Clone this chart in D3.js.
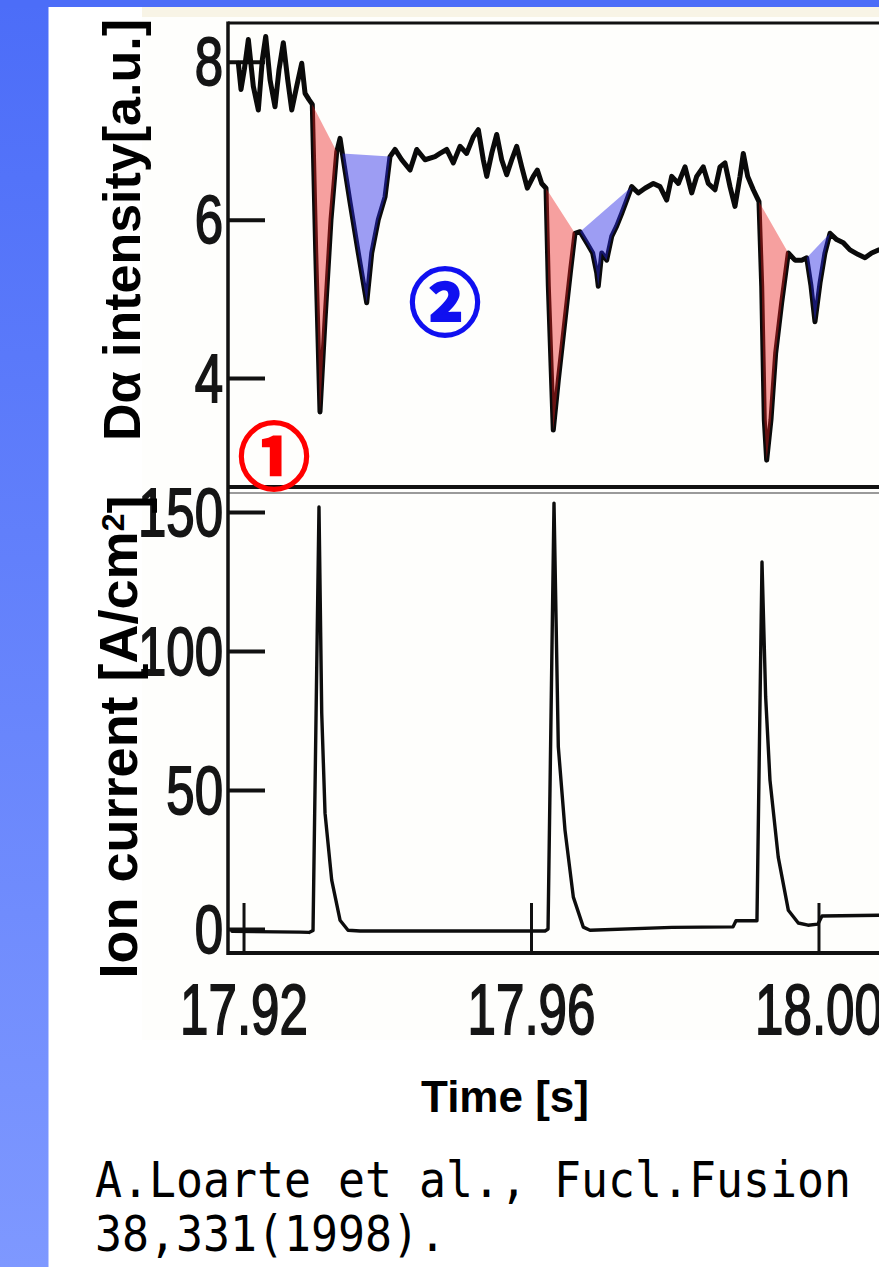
<!DOCTYPE html>
<html><head><meta charset="utf-8">
<script src="https://cdn.jsdelivr.net/npm/d3@7"></script>
<style>html,body{margin:0;padding:0;background:#fff;overflow:hidden} svg{display:block}</style>
</head><body>
<svg id="c" width="879" height="1267"></svg>
<script>
// ---------------- data ----------------
const timeTicks = [17.92, 17.96, 18.00];
const dalphaTicks = [4, 6, 8];
const ionTicks = [0, 50, 100, 150];

const dalphaTime = [17.91928,17.91965,17.92011,17.92067,17.92136,17.92206,17.92262,17.92309,17.92369,17.92438,
17.92494,17.92554,17.92615,17.92671,17.92740,17.92810,17.92856,17.92911,17.92957,17.93005,
17.93064,17.93134,17.93217,17.93297,17.93343,17.93375,17.93482,17.93597,17.93714,17.93784,
17.93875,17.93969,17.94038,17.94108,17.94201,17.94317,17.94410,17.94525,17.94664,17.94734,
17.94827,17.94919,17.95012,17.95105,17.95197,17.95267,17.95336,17.95384,17.95453,17.95523,
17.95592,17.95662,17.95732,17.95801,17.95871,17.95949,17.96032,17.96088,17.96149,17.96209,
17.96241,17.96310,17.96380,17.96473,17.96552,17.96612,17.96682,17.96775,17.96858,17.96914,
17.96936,17.96984,17.97053,17.97123,17.97192,17.97262,17.97332,17.97401,17.97493,17.97586,
17.97702,17.97795,17.97888,17.97958,17.98050,17.98143,17.98236,17.98306,17.98397,17.98467,
17.98560,17.98630,17.98699,17.98769,17.98838,17.98908,17.98954,17.99015,17.99093,17.99172,
17.99210,17.99246,17.99279,17.99339,17.99404,17.99488,17.99580,17.99673,17.99766,17.99836,
17.99896,17.99951,18.00021,18.00090,18.00160,18.00253,18.00345,18.00438,18.00554,18.00647,
18.00740,18.00842,18.00995];
const dalphaValue = [7.98,7.65,7.90,8.28,7.69,7.39,8.03,8.32,7.77,7.43,
7.90,8.24,7.77,7.39,7.69,7.98,7.60,7.52,7.46,5.58,
3.57,4.73,6.00,6.86,7.03,6.84,6.22,5.58,4.95,5.58,
6.00,6.29,6.80,6.89,6.76,6.63,6.89,6.76,6.80,6.84,
6.89,6.72,6.93,6.84,7.05,7.14,6.76,6.55,6.84,7.08,
6.76,6.57,6.76,6.93,6.67,6.40,6.55,6.63,6.46,6.40,
5.16,3.34,3.97,4.73,5.37,5.83,5.85,5.71,5.58,5.33,
5.16,5.58,5.49,5.79,5.92,6.08,6.25,6.42,6.34,6.40,
6.46,6.42,6.25,6.55,6.46,6.67,6.34,6.55,6.67,6.46,
6.38,6.67,6.72,6.42,6.17,6.55,6.84,6.55,6.38,6.23,
5.16,3.47,2.96,3.47,4.31,4.95,5.58,5.49,5.49,5.52,
5.16,4.71,5.20,5.58,5.83,5.75,5.71,5.62,5.56,5.52,
5.58,5.62,5.65];

// shaded regions: start/end time of each chord-bounded area
const shadeStart = [17.92957, 17.93375, 17.96209, 17.96682, 17.99172, 17.99836];
const shadeEnd   = [17.93297, 17.94038, 17.96612, 17.97401, 17.99580, 18.00160];
const shadeKind  = ["①", "②", "①", "②", "①", "②"];

const ionTime = [17.91840,17.92786,17.92911,17.92967,17.93050,17.93088,17.93134,17.93227,17.93343,17.93454,
17.93621,17.96195,17.96237,17.96320,17.96380,17.96473,17.96589,17.96728,17.96821,17.97960,
17.98811,17.98852,17.99131,17.99144,17.99214,17.99265,17.99325,17.99440,17.99580,17.99719,
17.99854,17.99993,18.00049,18.00842,18.00995];
const ionValue = [-0.8,-1.1,-1.2,-0.5,151.8,77.7,41.7,17.6,3.2,-0.4,
-0.7,-0.7,0,153.2,65.5,35.6,11.5,0.7,-0.4,0.6,
0.8,3.0,3.0,3.0,132,83.5,53.6,25.9,6.8,2.2,
1.4,1.8,4.7,5.0,5.0];

// ---------------- drawing ----------------
const svg = d3.select("#c");
const W = 879, H = 1267;

const defs = svg.append("defs");
const grad = defs.append("linearGradient").attr("id","strip").attr("x1",0).attr("y1",0).attr("x2",0).attr("y2",1);
grad.append("stop").attr("offset","0%").attr("stop-color","#4c6df8");
grad.append("stop").attr("offset","100%").attr("stop-color","#7e98ff");

svg.append("rect").attr("x",0).attr("y",0).attr("width",W).attr("height",H).attr("fill","#ffffff");
svg.append("rect").attr("x",0).attr("y",0).attr("width",48.5).attr("height",H).attr("fill","url(#strip)");
svg.append("rect").attr("x",0).attr("y",0).attr("width",W).attr("height",7).attr("fill","#4c6df8");
// scanned figure background
svg.append("rect").attr("x",142).attr("y",7).attr("width",W-142).attr("height",1033).attr("fill","#fefefc");
svg.append("rect").attr("x",142).attr("y",7).attr("width",W-142).attr("height",10).attr("fill","#f8f4e6");

const x = d3.scaleLinear().domain([17.91784, 18.00842]).range([228, 879]);
const yTop = d3.scaleLinear().domain([2.62, 8.49]).range([487, 23]);
const yBot = d3.scaleLinear().domain([-8.6, 159]).range([953, 487]);

const xL = x.range()[0], xR = 900;

// frame
const frame = svg.append("g").attr("stroke","#111").attr("fill","none");
frame.append("line").attr("x1",xL).attr("x2",xR).attr("y1",yTop.range()[1]).attr("y2",yTop.range()[1]).attr("stroke-width",3);
frame.append("line").attr("x1",xL).attr("x2",xR).attr("y1",yBot.range()[1]+6).attr("y2",yBot.range()[1]+6).attr("stroke","#9a9a9a").attr("stroke-width",2);
frame.append("line").attr("x1",xL).attr("x2",xR).attr("y1",yTop.range()[0]).attr("y2",yTop.range()[0]).attr("stroke-width",4);
frame.append("line").attr("x1",xL).attr("x2",xR).attr("y1",yBot.range()[0]).attr("y2",yBot.range()[0]).attr("stroke-width",4);
frame.append("line").attr("x1",xL).attr("x2",xL).attr("y1",yTop.range()[1]-1.5).attr("y2",yBot.range()[0]+2).attr("stroke-width",3.5);

const tickFont = "'Liberation Sans', Arial, sans-serif";
function styleLeft(g){
  g.select(".domain").remove();
  g.selectAll(".tick line").attr("stroke","#111").attr("stroke-width",4);
  g.selectAll(".tick text").attr("x",0).attr("dy","0.34em").attr("text-anchor","end")
    .attr("transform","translate(-5,0) scale(0.75,1)")
    .style("font-family",tickFont).style("font-size","68px")
    .attr("fill","#151515").attr("stroke","#151515").attr("stroke-width",1.8);
}
svg.append("g").attr("transform",`translate(${xL},0)`)
  .call(d3.axisLeft(yTop).tickValues(dalphaTicks).tickFormat(d3.format("d")).tickSizeInner(-37).tickSizeOuter(0))
  .call(styleLeft);
svg.append("g").attr("transform",`translate(${xL},0)`)
  .call(d3.axisLeft(yBot).tickValues(ionTicks).tickFormat(d3.format("d")).tickSizeInner(-37).tickSizeOuter(0))
  .call(styleLeft);

svg.append("g").attr("transform",`translate(0,${yBot.range()[0]})`)
  .call(d3.axisBottom(x).tickValues(timeTicks).tickFormat(d3.format(".2f")).tickSizeInner(-50).tickSizeOuter(0))
  .call(g=>{
    g.select(".domain").remove();
    g.selectAll(".tick line").attr("stroke","#111").attr("stroke-width",3);
    g.selectAll(".tick text").attr("y",81).attr("dy",0).attr("x",0).attr("text-anchor","middle")
      .attr("transform","scale(0.73,1)")
      .style("font-family",tickFont).style("font-size","70px")
      .attr("fill","#151515").attr("stroke","#151515").attr("stroke-width",1.8);
  });

// clip for curves
defs.append("clipPath").attr("id","plot").append("rect").attr("x",xL).attr("y",0).attr("width",W-xL).attr("height",H);

const dPts = dalphaTime.map((t,i)=>({t, v: dalphaValue[i]}));
const iPts = ionTime.map((t,i)=>({t, v: ionValue[i]}));

const lineTop = d3.line().x(d=>x(d.t)).y(d=>yTop(d.v));
const lineBot = d3.line().x(d=>x(d.t)).y(d=>yBot(d.v));

const plot = svg.append("g").attr("clip-path","url(#plot)");
plot.append("path").attr("d",lineTop(dPts)).attr("fill","none").attr("stroke","#0a0a0a")
  .attr("stroke-width",5).attr("stroke-linejoin","round").attr("stroke-linecap","round");
plot.append("path").attr("d",lineBot(iPts)).attr("fill","none").attr("stroke","#0d0d0d")
  .attr("stroke-width",3.4).attr("stroke-linejoin","round").attr("stroke-linecap","round");

const shadeColor = {"①":"rgba(236,30,30,0.42)", "②":"rgba(40,40,232,0.45)"};
shadeStart.forEach((s,i)=>{
  const pts = dPts.filter(p=>p.t>=s-1e-7 && p.t<=shadeEnd[i]+1e-7);
  plot.append("path").attr("d",lineTop(pts)+"Z").attr("fill",shadeColor[shadeKind[i]]).attr("stroke","none");
});

// circled markers
svg.append("text").attr("x",274).attr("y",451).attr("text-anchor","middle").attr("dominant-baseline","central")
  .style("font-family","'Noto Sans CJK JP', sans-serif").style("font-size","72px").style("font-weight","700")
  .attr("fill","#ff0000").attr("stroke","#ff0000").attr("stroke-width",2.5).text("①");
svg.append("text").attr("x",445).attr("y",297).attr("text-anchor","middle").attr("dominant-baseline","central")
  .style("font-family","'Noto Sans CJK JP', sans-serif").style("font-size","72px").style("font-weight","700")
  .attr("fill","#1010f0").attr("stroke","#1010f0").attr("stroke-width",2.5).text("②");

// axis titles
const labFont = "'Liberation Sans', Arial, sans-serif";
svg.append("text").attr("transform","translate(140,230) rotate(-90)").attr("text-anchor","middle")
  .style("font-family",labFont).style("font-weight","700").style("font-size","52px").attr("fill","#000")
  .text("Dα intensity[a.u.]");
const ion = svg.append("text").attr("transform","translate(137,737) rotate(-90)").attr("text-anchor","middle")
  .style("font-family",labFont).style("font-weight","700").style("font-size","54px").attr("fill","#000");
ion.append("tspan").text("Ion current [A/cm");
ion.append("tspan").attr("dy","-0.42em").style("font-size","32px").text("2");
ion.append("tspan").attr("dy","0.42em").text("]");

svg.append("text").attr("x",505).attr("y",1112).attr("text-anchor","middle")
  .style("font-family",labFont).style("font-weight","700").style("font-size","44px").attr("fill","#000")
  .text("Time [s]");

// citation
const citeFont = "'DejaVu Sans Mono', monospace";
const cs = 0.897;
svg.append("text").attr("x",95/cs).attr("y",1197).attr("transform",`scale(${cs},1)`)
  .style("font-family",citeFont).style("font-size","50px").attr("fill","#000")
  .text("A.Loarte et al., Fucl.Fusion");
svg.append("text").attr("x",95/cs).attr("y",1251).attr("transform",`scale(${cs},1)`)
  .style("font-family",citeFont).style("font-size","50px").attr("fill","#000")
  .text("38,331(1998).");
</script>
</body></html>
